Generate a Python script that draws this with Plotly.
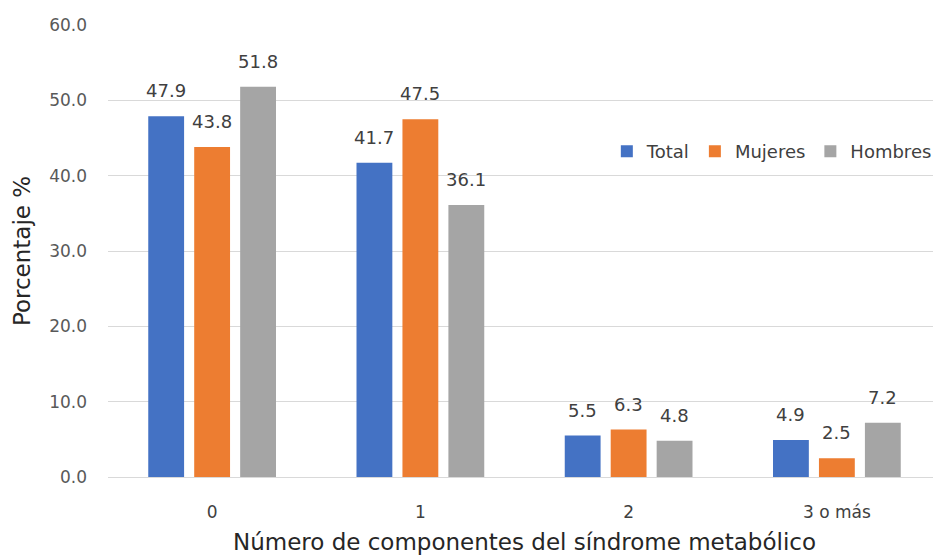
import plotly.graph_objects as go

categories = ["0", "1", "2", "3 o más"]
total = [47.9, 41.7, 5.5, 4.9]
mujeres = [43.8, 47.5, 6.3, 2.5]
hombres = [51.8, 36.1, 4.8, 7.2]
series_names = ["Total", "Mujeres", "Hombres"]
colors = ["#4472C4", "#ED7D31", "#A5A5A5"]

FONT = "DejaVu Sans"
fig = go.Figure()
series = [total, mujeres, hombres]
for name, vals, col in zip(series_names, series, colors):
    fig.add_trace(go.Bar(
        x=categories, y=vals, name=name, marker_color=col,
        marker_line=dict(width=0),
    ))

# data labels as annotations, shifted to each bar of the group
offsets = [-46, 0, 46]
for vals, dx in zip(series, offsets):
    for c, v in zip(categories, vals):
        fig.add_annotation(x=c, y=v, xref="x", yref="y", text=f"{v:.1f}",
                           showarrow=False, xshift=dx, yshift=13, yanchor="bottom",
                           font=dict(family=FONT, size=18, color="#404040"))

# page body has an 8px margin, so the figure is placed at (8, 8) in the window
fig.update_layout(
    width=933, height=547,
    margin=dict(l=100, r=0, t=17, b=78, autoexpand=False),
    paper_bgcolor="white", plot_bgcolor="white",
    font=dict(family=FONT, color="#595959"),
    barmode="group", bargap=0.338, bargroupgap=0.22,
    showlegend=True,
    legend=dict(orientation="h", x=0.995, xanchor="right", y=0.72, yanchor="middle",
                font=dict(family=FONT, size=18, color="#404040"), bgcolor="rgba(0,0,0,0)",
                traceorder="normal", itemwidth=30, tracegroupgap=0),
)
fig.update_xaxes(
    automargin=False,
    title=dict(text="Número de componentes del síndrome metabólico",
               font=dict(family=FONT, size=23, color="#262626"), standoff=18),
    tickfont=dict(family=FONT, size=17, color="#404040"), showline=True, linecolor="#D9D9D9",
    ticks="", ticklabelstandoff=20,
)
fig.update_yaxes(
    automargin=False,
    range=[0, 60], dtick=10, tickformat=".1f",
    title=dict(text="Porcentaje %", font=dict(family=FONT, size=23, color="#262626"), standoff=12),
    tickfont=dict(family=FONT, size=17, color="#595959"), gridcolor="#D9D9D9",
    zeroline=False, showline=False, ticklabelstandoff=20,
)
fig.write_html("out.html")
